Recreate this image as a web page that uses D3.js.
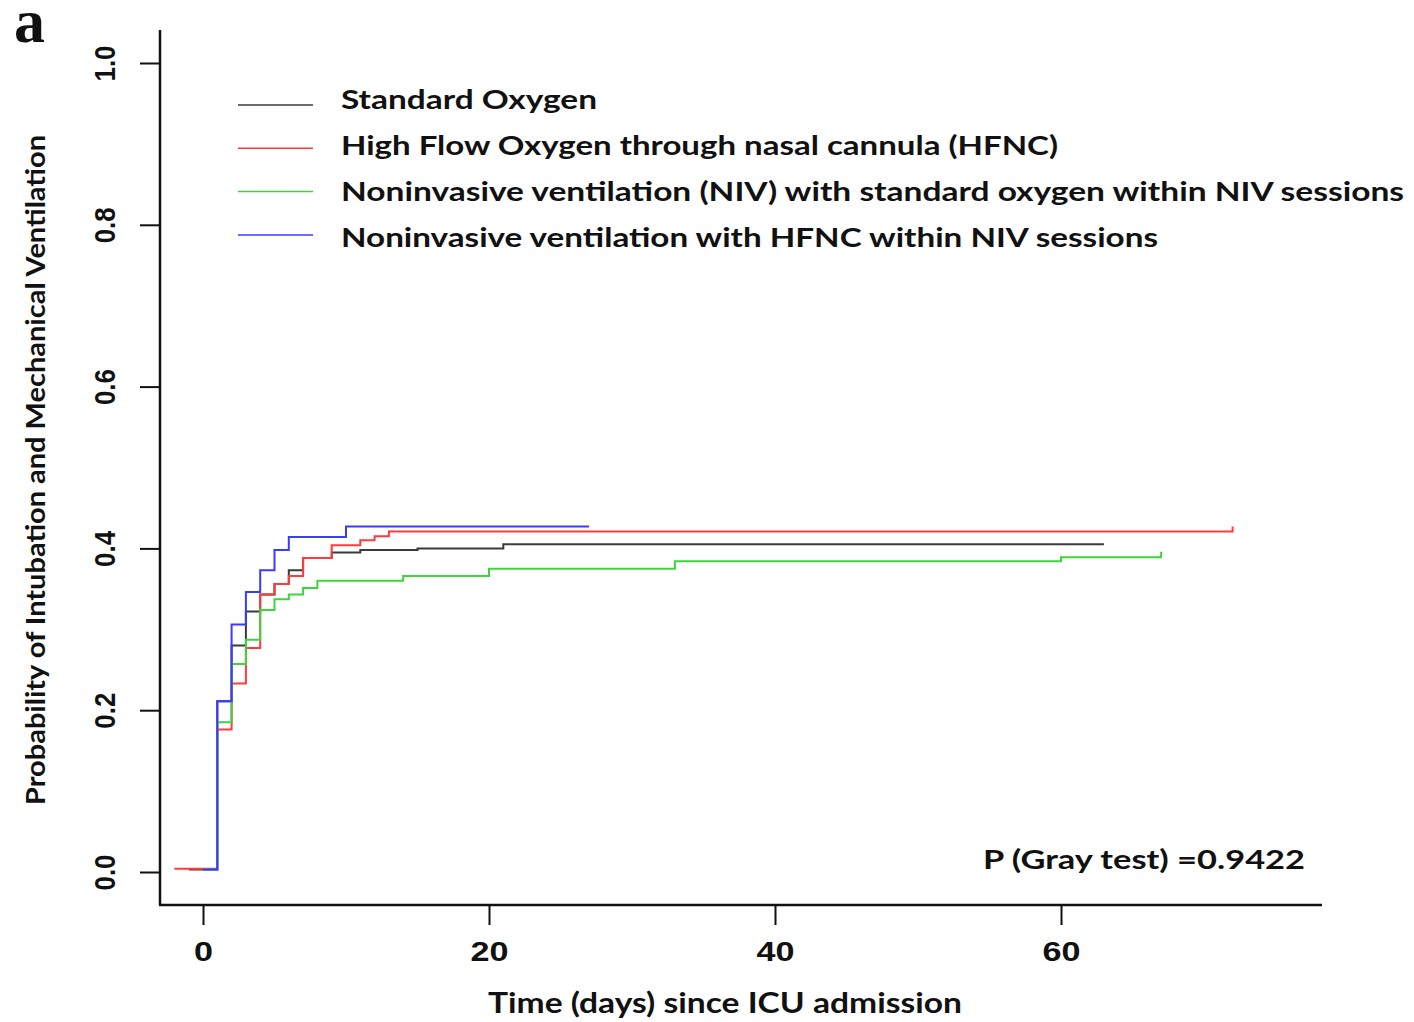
<!DOCTYPE html>
<meta charset="utf-8">
<head>
  <title>Intubation and mechanical ventilation</title>
  <style>
    body { margin: 0; background: #fff; }
    svg { display: block; }
    .lab { font-family: Lato, "Open Sans", sans-serif; font-weight: bold; fill: #111; }
    .tick text { font-family: "Liberation Sans", Arial, sans-serif; font-weight: bold; fill: #111; }
  </style>
</head>
<script src="https://d3js.org/d3.v7.min.js"></script>

<svg id="chart" width="1414" height="1022"></svg>

<script>
// series (days since ICU admission, cumulative incidence)
var groups = ["Standard Oxygen",
  "High Flow Oxygen through nasal cannula (HFNC)",
  "Noninvasive ventilation (NIV) with standard oxygen within NIV sessions",
  "Noninvasive ventilation with HFNC within NIV sessions"]
var colors = ["#3a3a3a", "#ff3b3b", "#3fd33f", "#3b3bff"]

var stdTimes  = [-1, 1, 2, 3, 4, 5, 6, 7, 9, 11, 15, 21, 63]
var stdValues = [0.003, 0.211, 0.280, 0.322, 0.343, 0.356, 0.373, 0.388, 0.395, 0.398, 0.400, 0.405, 0.405]

var hfncTimes  = [-2, 1, 2, 3, 4, 5, 6, 7, 9, 11, 12, 13, 72]
var hfncValues = [0.004, 0.176, 0.233, 0.277, 0.343, 0.356, 0.366, 0.388, 0.404, 0.410, 0.415, 0.421, 0.427]

var nivTimes  = [0, 1, 2, 3, 4, 5, 6, 7, 8, 14, 20, 33, 60, 67]
var nivValues = [0.003, 0.185, 0.257, 0.287, 0.324, 0.337, 0.343, 0.351, 0.360, 0.366, 0.375, 0.384, 0.389, 0.396]

var nivHfncTimes  = [0, 1, 2, 3, 4, 5, 6, 10, 27]
var nivHfncValues = [0.003, 0.211, 0.306, 0.346, 0.373, 0.398, 0.414, 0.427, 0.427]

var xTicks = [0, 20, 40, 60]
var yTicks = [0, 0.2, 0.4, 0.6, 0.8, 1.0]
var pText = "P (Gray test) =0.9422"

var series = [
  d3.zip(stdTimes, stdValues),
  d3.zip(hfncTimes, hfncValues),
  d3.zip(nivTimes, nivValues),
  d3.zip(nivHfncTimes, nivHfncValues)
]

var svg = d3.select("#chart")

var x = d3.scaleLinear().domain([0, 60]).range([203, 1061])
var y = d3.scaleLinear().domain([0, 1]).range([872, 63])

// curves
var line = d3.line()
  .x(d => x(d[0]))
  .y(d => y(d[1]))
  .curve(d3.curveStepAfter)

svg.append("g").selectAll("path")
  .data(series)
  .join("path")
  .attr("d", line)
  .attr("fill", "none")
  .attr("stroke", (d, i) => colors[i])
  .attr("stroke-width", 2)

// axes (L-shaped box like R's bty="l")
svg.append("line")
  .attr("x1", 160).attr("x2", 160).attr("y1", 30).attr("y2", 905)
  .attr("stroke", "#111").attr("stroke-width", 2.5)
svg.append("line")
  .attr("x1", 159).attr("x2", 1322).attr("y1", 905).attr("y2", 905)
  .attr("stroke", "#111").attr("stroke-width", 2.5)

var yAxis = svg.append("g")
  .attr("transform", "translate(160,0)")
  .call(d3.axisLeft(y).tickValues(yTicks).tickSize(20).tickFormat(d3.format(".1f")))
yAxis.select(".domain").remove()
yAxis.selectAll(".tick line").attr("stroke", "#111").attr("stroke-width", 2)
yAxis.selectAll(".tick text")
  .attr("x", null).attr("dy", null)
  .attr("transform", "translate(-45,0) rotate(-90)")
  .attr("text-anchor", "middle")
  .style("font-size", "30px")
  .attr("textLength", 36).attr("lengthAdjust", "spacingAndGlyphs")

var xAxis = svg.append("g")
  .attr("transform", "translate(0,905)")
  .call(d3.axisBottom(x).tickValues(xTicks).tickSize(20).tickFormat(d3.format("d")))
xAxis.select(".domain").remove()
xAxis.selectAll(".tick line").attr("stroke", "#111").attr("stroke-width", 2)
xAxis.selectAll(".tick text")
  .attr("y", 56).attr("dy", null)
  .style("font-size", "28px")
  .attr("textLength", d => String(d).length * 19)
  .attr("lengthAdjust", "spacingAndGlyphs")

// axis titles
svg.append("text")
  .attr("class", "lab")
  .attr("transform", "translate(45,470) rotate(-90)")
  .attr("text-anchor", "middle")
  .style("font-size", "27px")
  .attr("textLength", 670).attr("lengthAdjust", "spacingAndGlyphs")
  .text("Probability of Intubation and Mechanical Ventilation")

svg.append("text")
  .attr("class", "lab")
  .attr("x", 488).attr("y", 1013)
  .style("font-size", "28px")
  .attr("textLength", 474).attr("lengthAdjust", "spacingAndGlyphs")
  .text("Time (days) since ICU admission")

// legend
var legendWidths = [256, 717, 1063, 817]
var legend = svg.append("g")
legend.selectAll("line")
  .data(groups)
  .join("line")
  .attr("x1", 238).attr("x2", 313)
  .attr("y1", (d, i) => 105 + i * 43.3)
  .attr("y2", (d, i) => 105 + i * 43.3)
  .attr("stroke", (d, i) => colors[i])
  .attr("stroke-width", 1.5)
legend.selectAll("text")
  .data(groups)
  .join("text")
  .attr("class", "lab")
  .attr("x", 341)
  .attr("y", (d, i) => 109 + i * 46)
  .style("font-size", "27px")
  .attr("textLength", (d, i) => legendWidths[i])
  .attr("lengthAdjust", "spacingAndGlyphs")
  .text(d => d)

// p-value
svg.append("text")
  .attr("class", "lab")
  .attr("x", 983).attr("y", 869)
  .style("font-size", "27px")
  .attr("textLength", 322).attr("lengthAdjust", "spacingAndGlyphs")
  .text(pText)

// panel letter
svg.append("text")
  .attr("x", 14).attr("y", 42)
  .style("font-family", "'Liberation Serif', 'DejaVu Serif', serif")
  .style("font-weight", "bold")
  .style("font-size", "62px")
  .attr("fill", "#111")
  .text("a")
</script>
